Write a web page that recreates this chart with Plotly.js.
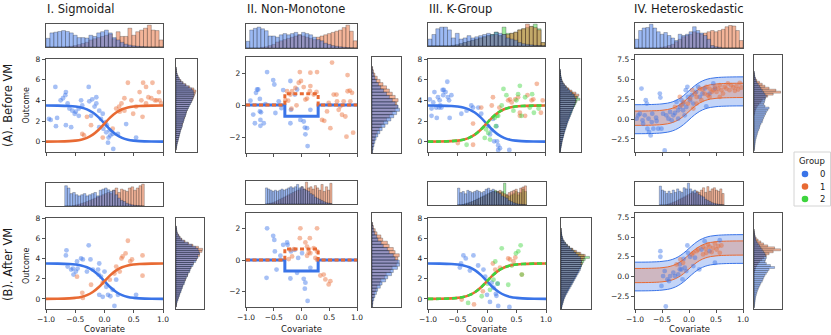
<!DOCTYPE html>
<html><head><meta charset="utf-8">
<script src="https://cdn.plot.ly/plotly-3.0.1.min.js"></script>
<style>html,body{margin:0;padding:0;background:#fff;overflow:hidden}#chart{width:831px;height:335px}</style>
</head><body><div id="chart"></div>
<script>
// ---------------- DATA ----------------
const groups = ['0','1','2'];
const xTickVals = [-1,-0.5,0,0.5,1];
const xTickText = ['−1.0','−0.5','0.0','0.5','1.0'];

// model curves
const curveX   = [-1,-0.8,-0.6,-0.5,-0.4,-0.3,-0.2,-0.1,0,0.1,0.2,0.3,0.4,0.5,0.6,0.8,1];
const sigDown  = [3.5,3.49,3.45,3.4,3.31,3.13,2.82,2.35,1.75,1.15,0.68,0.37,0.19,0.1,0.05,0.01,0];
const sigUp    = [0,0.01,0.05,0.1,0.19,0.37,0.68,1.15,1.75,2.35,2.82,3.13,3.31,3.4,3.45,3.49,3.5];
const stepX    = [-1,-0.3,-0.3,0.3,0.3,1];
const stepBlue = [0,0,-0.7,-0.7,0,0];
const stepOrng = [0,0,0.7,0.7,0,0];
const hetBlueHi = [1.8,1.81,1.85,1.9,1.99,2.17,2.48,2.95,3.55,4.15,4.62,4.93,5.11,5.2,5.25,5.29,5.3];
const hetBlueLo = [-1.85,-1.84,-1.8,-1.75,-1.66,-1.48,-1.17,-0.7,-0.1,0.5,0.97,1.28,1.46,1.55,1.6,1.64,1.65];
const hetOrngHi = [1.0,1.01,1.05,1.1,1.19,1.37,1.68,2.15,2.75,3.35,3.82,4.13,4.31,4.4,4.45,4.49,4.5];
const hetOrngLo = [-0.8,-0.79,-0.75,-0.7,-0.61,-0.43,-0.12,0.35,0.95,1.55,2.02,2.33,2.51,2.6,2.65,2.69,2.7];

// I. Sigmoidal – points
const sigA_x0 = [-0.84,-0.95,-0.92,-0.81,-0.83,-0.75,-0.71,-0.67,-0.66,-0.63,-0.6,-0.55,-0.51,-0.49,-0.44,-0.4,-0.38,-0.44,-0.66,-0.57,-0.27,-0.26,-0.21,-0.14,-0.14,-0.17,-0.23,-0.09,-0.06,-0.03,0.02,0.04,0.03,0.09,0.1,0.14,0.07,0.15,0.06,0.23,0.37,0.54,-0.09,-0.02];
const sigA_y0 = [5.3,2.2,2.1,2.3,1.5,4.0,4.2,4.5,4.8,3.7,3.2,3.0,2.7,2.9,2.5,4.0,3.5,3.2,1.6,1.4,5.3,3.9,4.1,4.3,3.7,3.4,2.5,3.0,2.2,2.7,1.9,1.6,0.9,1.1,0.6,0.75,0.4,-0.7,-0.1,0.75,1.7,0.4,1.4,1.25];
const sigA_x1 = [-0.38,-0.35,-0.3,-0.23,-0.03,0.14,0.2,0.25,0.29,0.34,0.4,0.46,0.49,0.63,0.65,0.66,0.71,0.75,0.8,0.82,0.86,0.89,0.93,0.94,0.97,0.54,0.6,0.71,0.34,0.26];
const sigA_y1 = [0.75,0.6,2.4,1.6,0.4,1.25,3.2,3.4,3.7,4.2,5.7,4.0,2.7,4.0,2.4,5.7,3.7,4.3,4.2,5.7,4.0,4.0,4.8,4.0,3.7,3.4,4.8,5.3,3.0,2.9];
const sigB_x0 = [-0.65,-0.66,-0.63,-0.57,-0.54,-0.49,-0.53,-0.47,-0.4,-0.37,-0.27,-0.24,-0.2,-0.09,-0.11,-0.06,0,0.03,0.06,0.14,0.17,-0.09,-0.03,0.1,0.23,0.54,-0.46,-0.3,-0.1,0.2];
const sigB_y0 = [4.8,4.3,3.2,2.9,3.0,2.7,2.4,3.7,4.0,3.9,5.3,3.9,2.9,3.5,2.9,2.2,2.7,1.2,0.4,0.9,-0.7,0.4,0.2,0.26,0.4,0.4,3.0,2.7,2.4,1.9];
const sigB_x1 = [-0.47,-0.38,-0.37,-0.23,-0.03,0.09,0.17,0.2,0.29,0.31,0.36,0.4,0.44,0.47,0.65,0.65,0.26];
const sigB_y1 = [2.2,0.6,0.1,1.4,1.6,1.9,2.5,3.2,4.0,4.2,4.5,5.75,3.7,3.9,4.3,2.3,2.7];

// II. Non-Monotone – points
const nmA_x0 = [-0.92,-0.87,-0.84,-0.82,-0.8,-0.78,-0.75,-0.75,-0.74,-0.73,-0.74,-0.68,-0.62,-0.51,-0.49,-0.47,-0.41,-0.33,-0.2,-0.19,-0.2,-0.12,-0.08,-0.02,0.04,0.06,0.07,0.1,0.11,0.16,-0.36,-0.65];
const nmA_y0 = [0.27,-0.6,-1.14,0.76,0.97,0.97,0.38,-0.4,-0.93,-0.46,-1.3,-1.14,2.06,1.56,1.28,-0.5,0.23,0.93,1.5,-0.3,-1.14,0.65,0.97,-0.93,-1.03,-1.41,-1.83,-1.45,-2.57,-0.3,-0.2,0.06];
const nmA_x1 = [-0.03,0.16,0.28,0.55,0.83,-0.26,-0.2,-0.17,-0.11,-0.05,-0.01,0.04,0.07,0.1,0.15,0.16,0.22,0.27,-0.29,-0.24,-0.18,-0.09,0.37,0.41,0.46,0.49,0.52,0.58,0.63,0.64,0.67,0.7,0.73,0.76,0.79,0.81,0.83,0.87,0.91,0.93,0.88];
const nmA_y1 = [2.06,2.02,2.06,2.65,1.87,0.86,0.65,0.86,1.07,1.39,1.5,1.12,0.34,0.4,0.86,1.18,0.65,0.82,0.3,0.27,-0.23,-0.02,-0.93,-0.99,-0.4,0.13,-1.45,0.65,0.65,0.23,-0.3,-0.08,-0.61,0.23,-0.72,-1.98,0.86,0.9,0.76,-1.73,0.23];
const nmB_x0 = [-0.62,-0.51,-0.49,-0.48,-0.45,-0.63,-0.38,-0.33,-0.26,-0.25,-0.2,-0.19,-0.06,-0.08,0.04,0.07,0.06,0.11,0.16,0.01,-0.12];
const nmB_y0 = [2.02,1.54,1.28,0.55,-0.61,-1.14,0.27,0.97,1.12,0.97,-1.18,0.55,0.13,-0.82,-1.2,-1.45,-1.83,-2.61,-0.5,0.44,0.65];
const nmB_x1 = [-0.02,0.28,-0.03,0.15,0.07,0.1,0.13,-0.2,-0.14,-0.23,-0.17,0.1,0.16,0.34,0.4,0.43,0.52,0.49,0.25,0.28,0.22,0.28];
const nmB_y1 = [2.02,2.02,1.39,1.39,1.12,0.86,0.48,0.65,0.69,0.06,0.23,0.27,0.44,-0.99,-0.93,-1.24,-1.35,-1.56,0.13,0.55,0.76,0.02];

// III. K-Group – points
const kgA_x0 = [-0.97,-0.94,-0.94,-0.91,-0.89,-0.86,-0.85,-0.83,-0.8,-0.79,-0.75,-0.73,-0.7,-0.67,-0.66,-0.64,-0.63,-0.6,-0.74,-0.81,-0.77,-0.43,-0.34,-0.26,-0.23,-0.14,-0.09,0.06,0.09,0.13,0.17,0.18,0.2,0.2,0.23,0.39,0.03,0.11];
const kgA_y0 = [4.1,3.2,2.5,3.8,4.8,3.3,2.3,4.3,4.0,3.5,5.0,5.0,4.8,5.8,4.3,4.0,2.3,4.5,4.5,3.3,3.3,2.7,3.0,3.5,3.3,3.3,2.7,0.7,1.1,0.03,1.5,0.03,-0.36,-0.8,-0.63,-0.8,1.5,2.2];
const kgA_x1 = [-0.49,-0.23,-0.23,-0.09,0.09,0.11,0.22,0.37,0.4,0.43,0.49,0.54,0.57,0.66,0.7,0.77,0.8,0.86,0.93,0.96,0.57];
const kgA_y1 = [-0.13,-0.3,1.75,3.3,3.5,4.3,3.3,4.0,4.1,3.8,4.1,4.3,2.8,2.5,4.5,4.0,4.1,5.6,2.8,4.0,2.5];
const kgA_x2 = [-0.34,-0.03,0.03,0.06,0.14,0.2,0.16,0.26,0.29,0.34,0.46,0.51,0.54,0.57,0.6,0.66,0.74,0.78,0.81,0.89,0.18,-0.01];
const kgA_y2 = [-0.3,0.36,0.85,0.2,2.3,2.5,1.5,3.5,5.1,4.5,3.0,4.0,4.6,5.4,2.5,4.3,3.3,4.6,2.8,3.2,2.5,1.2];
const kgB_x0 = [-0.46,-0.44,-0.4,-0.36,-0.29,-0.23,-0.15,-0.06,-0.03,0.05,0.11,0.15,0.16,0.19,0.18,0.38,0,0.08];
const kgB_y0 = [3.1,3.5,4.3,4.0,2.8,4.3,3.3,2.9,2.2,-0.3,1.1,0.5,0.3,-0.7,1.5,-0.8,0.4,1.6];
const kgB_x1 = [-0.43,-0.22,-0.07,0.1,0.14,0.36,0.39,0.45,0.48,0.59,0.22];
const kgB_y1 = [-0.07,-0.55,0.75,3.5,2.9,4.0,3.9,3.7,4.1,2.4,3.1];
const kgB_x2 = [-0.32,-0.09,0.01,0.05,0.11,0.14,0.18,0.25,0.36,0.42,0.49,0.53,0.57,0.59];
const kgB_y2 = [-0.4,0.26,1.5,0.9,1.9,3.7,1.5,5.0,1.4,3.3,4.5,4.7,5.3,2.4];

// IV. Heteroskedastic – points
const hetA_x0 = [-0.97,-0.94,-0.91,-0.88,-0.86,-0.85,-0.82,-0.8,-0.78,-0.77,-0.74,-0.71,-0.75,-0.69,-0.68,-0.66,-0.61,-0.6,-0.57,-0.54,-0.53,-0.51,-0.48,-0.45,-0.42,-0.38,-0.35,-0.32,-0.29,-0.26,-0.23,-0.2,-0.17,-0.14,-0.11,-0.08,-0.06,-0.03,-0.02,0.02,0.05,0.08,0.13,0.17,0.2,0.25,0.29,0.32,0.38,0.45,0.48,-0.05,-0.11,-0.2];
const hetA_y0 = [0.04,0.46,0.67,3.83,-0.17,-0.59,0.46,2.36,1.94,-1.22,-1.64,-2.06,0.04,-0.38,0.67,-1.22,0.17,-0.25,-1.22,3.2,2.7,-1.22,0.67,-3.96,0.46,0.04,0.88,-0.17,0.46,0.76,2.15,1.1,1.52,2.36,1.94,0.46,3.62,4.05,2.78,2.36,2.99,1.94,3.41,4.05,2.78,3.2,3.83,1.6,3.2,4.47,3.83,1.52,1.1,0.04];
const hetA_x1 = [-0.26,-0.17,-0.14,-0.1,-0.02,0.02,0.06,0.11,0.14,0.2,0.25,0.29,0.32,0.35,0.38,0.42,0.45,0.48,0.51,0.54,0.57,0.6,0.63,0.66,0.69,0.72,0.75,0.78,0.82,0.85,0.88,0.91,0.94,0.97,0.14,0.08,0.23,0.38,0.57];
const hetA_y1 = [1.52,2.78,1.73,2.15,1.94,2.57,3.62,3.2,2.78,3.83,3.71,3.2,4.05,2.99,3.83,3.41,3.62,4.05,3.41,3.83,4.26,3.62,3.2,4.05,3.83,4.47,3.62,4.26,3.96,3.54,4.13,3.71,4.55,3.96,1.94,1.31,2.36,2.78,2.78];
const hetB_x0 = [-0.53,-0.53,-0.51,-0.48,-0.45,-0.43,-0.4,-0.37,-0.35,-0.29,-0.26,-0.2,-0.17,-0.14,-0.12,-0.1,-0.03,-0.02,0.02,0.08,0.11,0.19,0.23,0.29,0.38,0.48,0.57,-0.17,-0.08,-0.05];
const hetB_y0 = [3.2,2.49,-1.22,0.04,0.67,-3.83,-0.38,-0.59,0.04,0.46,0.04,0.25,1.52,0.88,-0.38,2.23,3.92,2.99,2.49,1.31,2.36,0.88,3.41,4.47,3.2,1.73,4.59,0.88,1.1,0.67];
const hetB_x1 = [-0.23,-0.16,-0.11,0.05,0.08,0.14,0.17,0.26,0.31,0.35,0.38,0.42,0.45,0.48,0.51,0.54,0.57,0.6,0.26,0.32];
const hetB_y1 = [1.52,2.15,1.73,2.78,2.99,3.2,3.41,3.75,3.5,4.05,3.75,3.08,3.62,4.17,3.41,3.83,2.99,3.92,2.78,2.99];

// marginal histograms (relative counts per bin)
const sigA_top0 = [0.37,0.6,0.63,0.66,0.7,0.66,0.6,0.5,0.4,0.4,0.38,0.5,0.45,0.6,0.65,0.72,0.6,0.4,0.3,0.2,0.12,0.08,0.05,0.03,0.02,0.01,0,0,0,0];
const sigA_top1 = [0,0,0,0,0,0.02,0.03,0.06,0.1,0.15,0.2,0.3,0.35,0.4,0.45,0.5,0.55,0.35,0.65,0.45,0.45,0.8,0.5,0.65,0.72,0.8,0.93,0.72,0.7,0.3];
const sigB_top0 = [0.9,0.8,0.55,0.6,0.5,0.45,0.5,0.55,0.45,0.5,0.55,0.6,0.45,0.7,0.75,0.8,0.72,0.65,0.7,0.5,0.35,0.25,0.2,0.12,0.08,0.05,0.03,0.02,0.01,0];
const sigB_top1 = [0,0,0,0.02,0.05,0.08,0.12,0.15,0.2,0.25,0.3,0.35,0.4,0.45,0.5,0.55,0.6,0.55,0.7,0.8,0.6,0.75,0.7,0.65,0.8,0.85,0.7,0.8,0.9,0.97];
const nmA_top0 = [0.28,0.75,0.82,0.87,0.8,0.72,0.5,0.5,0.45,0.55,0.6,0.55,0.6,0.65,0.55,0.65,0.6,0.55,0.45,0.35,0.3,0.2,0.15,0.1,0.07,0.05,0.03,0.02,0.01,0];
const nmA_top1 = [0,0,0,0,0.03,0.05,0.1,0.15,0.25,0.3,0.35,0.4,0.45,0.5,0.55,0.5,0.45,0.4,0.35,0.45,0.5,0.55,0.6,0.65,0.7,0.75,0.85,0.95,0.7,0.3];
const nmB_top0 = [0.7,0.65,0.6,0.55,0.6,0.55,0.6,0.65,0.6,0.65,0.7,0.75,0.7,0.75,0.85,0.7,0.75,0.65,0.6,0.55,0.45,0.4,0.3,0.25,0.2,0.15,0.1,0.06,0.04,0.02];
const nmB_top1 = [0,0.02,0.04,0.06,0.1,0.15,0.2,0.25,0.3,0.35,0.4,0.45,0.5,0.55,0.6,0.62,0.75,0.65,0.95,0.7,0.75,0.65,0.8,0.7,0.6,0.85,0.55,0.75,0.6,0.9];
const kgA_top0 = [0.3,0.5,0.75,0.82,0.82,0.7,0.35,0.55,0.3,0.35,0.45,0.35,0.4,0.45,0.5,0.55,0.5,0.6,0.55,0.5,0.35,0.3,0.25,0.15,0.1,0.07,0.05,0.03,0.02,0.01];
const kgA_top1 = [0,0,0,0,0,0,0.03,0.05,0.1,0.15,0.2,0.25,0.3,0.35,0.4,0.45,0.45,0.5,0.45,0.5,0.5,0.55,0.6,0.7,0.75,0.95,0.85,0.8,0.7,0.15];
const kgA_top2 = [0,0,0,0,0,0,0.02,0.05,0.1,0.15,0.2,0.25,0.3,0.35,0.4,0.45,0.5,0.6,0.45,0.82,0.55,0.55,0.6,0.7,0.75,0.8,0.85,0.95,0.75,0.15];
const kgB_top0 = [0.75,0.55,0.6,0.5,0.65,0.6,0.55,0.6,0.65,0.6,0.55,0.6,0.7,0.75,0.65,0.7,0.6,0.55,0.5,0.4,0.35,0.3,0.2,0.15,0.1,0.07,0.04,0.03,0.02,0.01];
const kgB_top1 = [0,0,0.02,0.05,0.08,0.12,0.15,0.2,0.25,0.3,0.35,0.4,0.45,0.5,0.55,0.6,0.55,0.6,0.65,0.55,0.5,0.45,0.55,0.6,0.65,0.7,0.55,0.75,0.8,0.85];
const kgB_top2 = [0,0,0.02,0.05,0.08,0.12,0.15,0.2,0.25,0.3,0.35,0.4,0.45,0.5,0.55,0.6,0.65,0.6,0.55,0.6,0.97,0.45,0.4,0.45,0.5,0.6,0.45,0.55,0.7,0.6];
const hetA_top0 = [0.35,0.7,0.8,0.82,0.95,0.8,0.65,0.55,0.62,0.5,0.4,0.3,0.55,0.5,0.55,0.65,0.85,0.7,0.6,0.5,0.35,0.1,0.05,0.03,0,0,0,0,0,0];
const hetA_top1 = [0,0,0,0,0,0,0,0.03,0.05,0.1,0.15,0.25,0.35,0.45,0.5,0.55,0.65,0.6,0.55,0.6,0.65,0.7,0.65,0.7,0.75,0.85,0.9,0.88,0.7,0.3];
const hetB_top0 = [0.82,0.65,0.6,0.5,0.6,0.5,0.65,0.55,0.7,0.6,0.55,0.75,0.7,0.95,0.7,0.6,0.65,0.55,0.45,0.4,0.35,0.25,0.2,0.15,0.1,0.07,0.05,0.03,0.02,0.01];
const hetB_top1 = [0,0,0,0.02,0.05,0.08,0.12,0.15,0.2,0.25,0.3,0.35,0.4,0.45,0.5,0.55,0.5,0.6,0.55,0.65,0.75,0.55,0.8,0.6,0.7,0.75,0.65,0.6,0.7,0.5];

const sigA_r0 = [0.01,0.03,0.05,0.07,0.1,0.12,0.15,0.17,0.2,0.22,0.26,0.3,0.3,0.35,0.38,0.4,0.45,0.48,0.5,0.55,0.6,0.65,0.7,0.75,0.78,0.82,0.85,0.85,0.82,0.75,0.6,0.45,0.32,0.22,0.15,0.1,0.06,0.03,0.02,0.01];
const sigA_r1 = [0.01,0.02,0.04,0.06,0.09,0.11,0.14,0.16,0.19,0.21,0.25,0.28,0.31,0.34,0.37,0.41,0.44,0.47,0.5,0.54,0.58,0.62,0.68,0.74,0.8,0.84,0.88,0.92,0.95,0.85,0.65,0.48,0.34,0.24,0.16,0.1,0.06,0.03,0.02,0.01];
const sigB_r0 = [0.01,0.02,0.04,0.07,0.09,0.12,0.14,0.18,0.2,0.23,0.25,0.3,0.32,0.34,0.38,0.42,0.44,0.5,0.52,0.55,0.62,0.64,0.72,0.74,0.8,0.8,0.86,0.84,0.8,0.72,0.58,0.44,0.3,0.2,0.14,0.09,0.05,0.03,0.02,0.01];
const sigB_r1 = [0.01,0.02,0.03,0.06,0.08,0.11,0.13,0.16,0.18,0.22,0.24,0.28,0.3,0.35,0.36,0.42,0.43,0.48,0.5,0.55,0.57,0.63,0.66,0.75,0.78,0.86,0.85,0.95,0.97,0.82,0.62,0.46,0.33,0.22,0.15,0.1,0.05,0.03,0.02,0.01];
const nmA_r0 = [0.02,0.04,0.07,0.1,0.14,0.2,0.27,0.35,0.45,0.55,0.65,0.75,0.85,0.95,0.9,0.8,0.7,0.6,0.5,0.4,0.3,0.22,0.15,0.1,0.06,0.03,0.01];
const nmA_r1 = [0.01,0.02,0.04,0.06,0.09,0.13,0.18,0.25,0.32,0.4,0.5,0.6,0.7,0.8,0.88,0.85,0.9,0.8,0.7,0.6,0.5,0.38,0.28,0.18,0.1,0.05,0.02];
const nmB_r0 = [0.02,0.03,0.06,0.1,0.15,0.19,0.28,0.34,0.46,0.53,0.66,0.72,0.86,0.93,0.92,0.78,0.72,0.58,0.52,0.38,0.31,0.2,0.16,0.09,0.06,0.03,0.01];
const nmB_r1 = [0.01,0.02,0.03,0.07,0.08,0.14,0.17,0.26,0.3,0.42,0.48,0.62,0.68,0.82,0.86,0.87,0.92,0.78,0.72,0.58,0.52,0.36,0.3,0.17,0.11,0.05,0.02];
const kgA_r0 = [0.02,0.04,0.06,0.08,0.1,0.12,0.15,0.18,0.2,0.23,0.26,0.3,0.33,0.36,0.4,0.44,0.48,0.52,0.56,0.6,0.64,0.68,0.72,0.76,0.78,0.8,0.75,0.7,0.6,0.5,0.4,0.3,0.22,0.15,0.1,0.07,0.05,0.03,0.02,0.01];
const kgA_r1 = [0.01,0.02,0.04,0.06,0.08,0.1,0.12,0.15,0.18,0.2,0.23,0.26,0.3,0.33,0.36,0.4,0.44,0.48,0.5,0.55,0.6,0.65,0.7,0.75,0.8,0.78,0.85,0.95,0.8,0.6,0.45,0.32,0.22,0.15,0.1,0.06,0.04,0.02,0.01,0];
const kgA_r2 = [0.01,0.02,0.04,0.06,0.08,0.1,0.12,0.15,0.18,0.2,0.23,0.26,0.3,0.33,0.36,0.4,0.45,0.5,0.55,0.6,0.62,0.68,0.75,0.8,0.85,1.0,0.9,0.75,0.65,0.5,0.4,0.3,0.2,0.14,0.09,0.06,0.04,0.02,0.01,0];
const kgB_r0 = [0.02,0.04,0.06,0.08,0.1,0.13,0.16,0.2,0.24,0.28,0.32,0.36,0.4,0.44,0.48,0.52,0.56,0.6,0.64,0.68,0.7,0.72,0.7,0.72,0.7,0.68,0.6,0.52,0.45,0.38,0.3,0.22,0.16,0.11,0.07,0.05,0.03,0.02,0.01,0];
const kgB_r1 = [0.01,0.02,0.04,0.06,0.08,0.1,0.13,0.16,0.2,0.24,0.28,0.32,0.36,0.4,0.44,0.48,0.52,0.56,0.6,0.63,0.66,0.7,0.74,0.72,0.78,0.82,0.85,0.7,0.55,0.42,0.3,0.22,0.15,0.1,0.06,0.04,0.02,0.01,0,0];
const kgB_r2 = [0.01,0.02,0.04,0.06,0.08,0.1,0.13,0.16,0.2,0.24,0.28,0.32,0.36,0.4,0.44,0.48,0.52,0.56,0.6,0.63,0.68,0.72,0.76,0.8,0.85,1.0,0.8,0.65,0.5,0.4,0.3,0.22,0.15,0.1,0.06,0.04,0.02,0.01,0,0];
const hetA_r0 = [0.01,0.02,0.03,0.04,0.05,0.06,0.08,0.1,0.12,0.14,0.17,0.2,0.22,0.25,0.3,0.32,0.35,0.38,0.42,0.45,0.5,0.55,0.4,0.35,0.38,0.4,0.42,0.45,0.4,0.35,0.3,0.25,0.2,0.15,0.1,0.07,0.05,0.03,0.02,0.01];
const hetA_r1 = [0,0,0,0,0,0,0,0,0,0,0,0,0,0,0,0,0,0,0.02,0.03,0.05,0.08,0.12,0.18,0.25,0.3,0.4,0.5,0.7,0.97,0.8,0.55,0.4,0.3,0.2,0.1,0.05,0.02,0.01,0];
const hetB_r0 = [0.01,0.02,0.03,0.04,0.05,0.06,0.08,0.1,0.12,0.15,0.18,0.22,0.25,0.3,0.33,0.36,0.4,0.45,0.5,0.55,0.75,0.6,0.45,0.4,0.42,0.45,0.42,0.4,0.35,0.3,0.25,0.2,0.15,0.1,0.07,0.05,0.03,0.02,0.01,0];
const hetB_r1 = [0,0,0,0,0,0,0,0,0,0,0,0,0,0,0,0,0,0,0.02,0.04,0.06,0.1,0.15,0.2,0.28,0.35,0.45,0.55,0.7,0.97,0.75,0.5,0.35,0.25,0.15,0.08,0.04,0.02,0.01,0];

// ---------------- DRAWING ----------------
const W = 831, H = 335;
const FONT = 'DejaVu Sans, sans-serif';
const C = ['#3A74E8', '#E86A33', '#3DD43D'];
function rgba(hex, a) { const n = parseInt(hex.slice(1), 16); return 'rgba(' + (n >> 16) + ',' + ((n >> 8) & 255) + ',' + (n & 255) + ',' + a + ')'; }
const traces = [];
const layout = {
  width: W, height: H, margin: {l: 0, r: 0, t: 0, b: 0, autoexpand: false},
  paper_bgcolor: 'white', plot_bgcolor: 'white', barmode: 'overlay', bargap: 0,
  font: {family: FONT, color: '#222'}, annotations: [], shapes: [], showlegend: false
};
let nAx = 0;
const frame = {showline: true, mirror: true, linecolor: '#262626', linewidth: 0.8, showgrid: false, zeroline: false, fixedrange: true};
function axes(x0, x1, y0, y1, xo, yo) {
  nAx++; const s = nAx === 1 ? '' : String(nAx);
  layout['xaxis' + s] = Object.assign({}, frame, {domain: [x0 / W, x1 / W], anchor: 'y' + s}, xo);
  layout['yaxis' + s] = Object.assign({}, frame, {domain: [1 - y1 / H, 1 - y0 / H], anchor: 'x' + s}, yo);
  return {xaxis: 'x' + s, yaxis: 'y' + s};
}
const TICK = {ticks: 'outside', ticklen: 3.5, tickwidth: 0.8, tickcolor: '#262626', tickfont: {size: 7.5, family: FONT, color: '#222'}};
const HID = {ticks: '', showticklabels: false};
function mainAxes(g, yr, yt, ytt, showX) {
  return axes(g.m[0], g.m[1], g.m[2], g.m[3],
    Object.assign({range: [-1, 1], tickvals: xTickVals, ticktext: xTickText, showticklabels: showX}, TICK),
    Object.assign({range: yr, tickvals: yt, ticktext: ytt}, TICK));
}
function topAxes(g) { return axes(g.m[0], g.m[1], g.t[0], g.t[1], Object.assign({range: [-1, 1]}, HID), Object.assign({autorange: true, rangemode: 'tozero'}, HID)); }
function rightAxes(g, yr) { return axes(g.r[0], g.r[1], g.m[2], g.m[3], Object.assign({autorange: true, rangemode: 'tozero'}, HID), Object.assign({range: yr}, HID)); }
function binCenters(lo, w, n) { const a = []; for (let i = 0; i < n; i++) a.push(lo + w * (i + 0.5)); return a; }
const EDGE = {color: 'rgba(20,20,20,0.5)', width: 0.5};
function topHist(ax, lo, hi, counts, col) {
  const n = counts.length, w = (hi - lo) / n;
  traces.push({type: 'bar', x: binCenters(lo, w, n), y: counts, width: w, marker: {color: rgba(col, 0.5), line: EDGE}, xaxis: ax.xaxis, yaxis: ax.yaxis, showlegend: false, hoverinfo: 'skip'});
}
function rightHist(ax, lo, w, counts, col) {
  traces.push({type: 'bar', orientation: 'h', y: binCenters(lo, w, counts.length), x: counts, width: w, marker: {color: rgba(col, 0.5), line: EDGE}, xaxis: ax.xaxis, yaxis: ax.yaxis, showlegend: false, hoverinfo: 'skip'});
}
function pts(ax, xs, ys, col) {
  traces.push({type: 'scatter', mode: 'markers', x: xs, y: ys, marker: {size: 4.8, color: rgba(col, 0.45), line: {width: 0}}, xaxis: ax.xaxis, yaxis: ax.yaxis, showlegend: false, hoverinfo: 'skip'});
}
function line(ax, xs, ys, col, w, dash, shape, fill, fillcolor) {
  const t = {type: 'scatter', mode: 'lines', x: xs, y: ys, line: {color: col, width: w, dash: dash || 'solid', shape: shape || 'spline', smoothing: 1}, xaxis: ax.xaxis, yaxis: ax.yaxis, showlegend: false, hoverinfo: 'skip'};
  if (fill) { t.fill = fill; t.fillcolor = fillcolor; }
  traces.push(t);
}

const G = [
  {m: [46, 163, 59, 152], t: [24, 47], r: [176, 197]},
  {m: [46, 163, 218, 309], t: [183, 206], r: [176, 204]},
  {m: [246, 357, 57, 153], t: [24, 48], r: [372, 401]},
  {m: [246, 357, 213, 307], t: [181, 204], r: [372, 401]},
  {m: [428, 545, 59, 152], t: [23, 46], r: [560, 581]},
  {m: [428, 546, 218, 309], t: [182, 205], r: [561, 591]},
  {m: [635, 743, 55, 152], t: [23, 48], r: [754, 782]},
  {m: [635, 743, 213, 309], t: [182, 205], r: [754, 782]}
];
const YR_S = [-1, 8], YT_S = [0, 2, 4, 6, 8], YTT_S = ['0', '2', '4', '6', '8'];
const YR_N = [-3, 3], YT_N = [-2, 0, 2], YTT_N = ['−2', '0', '2'];
const YR_H = [-4.15, 8.05], YT_H = [-2.5, 0, 2.5, 5, 7.5], YTT_H = ['−2.5', '0.0', '2.5', '5.0', '7.5'];

// I. Sigmoidal
[[G[0], false, sigA_x0, sigA_y0, sigA_x1, sigA_y1, [-1, 1], sigA_top0, sigA_top1, sigA_r0, sigA_r1],
 [G[1], true, sigB_x0, sigB_y0, sigB_x1, sigB_y1, [-0.68, 0.68], sigB_top0, sigB_top1, sigB_r0, sigB_r1]].forEach(p => {
  const m = mainAxes(p[0], YR_S, YT_S, YTT_S, p[1]);
  pts(m, p[2], p[3], C[0]); pts(m, p[4], p[5], C[1]);
  line(m, curveX, sigDown, C[0], 2.6); line(m, curveX, sigUp, C[1], 2.6);
  const t = topAxes(p[0]); topHist(t, p[6][0], p[6][1], p[8], C[1]); topHist(t, p[6][0], p[6][1], p[7], C[0]);
  const r = rightAxes(p[0], YR_S); rightHist(r, -0.8, 0.2, p[10], C[1]); rightHist(r, -0.8, 0.2, p[9], C[0]);
});
// II. Non-Monotone
[[G[2], false, nmA_x0, nmA_y0, nmA_x1, nmA_y1, [-1, 1], nmA_top0, nmA_top1, nmA_r0, nmA_r1],
 [G[3], true, nmB_x0, nmB_y0, nmB_x1, nmB_y1, [-0.65, 0.55], nmB_top0, nmB_top1, nmB_r0, nmB_r1]].forEach(p => {
  const m = mainAxes(p[0], YR_N, YT_N, YTT_N, p[1]);
  pts(m, p[2], p[3], C[0]); pts(m, p[4], p[5], C[1]);
  line(m, stepX, stepBlue, C[0], 3, 'solid', 'linear'); line(m, stepX, stepOrng, C[1], 3, '4px,2.5px', 'linear');
  const t = topAxes(p[0]); topHist(t, p[6][0], p[6][1], p[8], C[1]); topHist(t, p[6][0], p[6][1], p[7], C[0]);
  const r = rightAxes(p[0], YR_N); rightHist(r, -3, 0.2, p[10], C[1]); rightHist(r, -3, 0.2, p[9], C[0]);
});
// III. K-Group
[[G[4], false, kgA_x0, kgA_y0, kgA_x1, kgA_y1, kgA_x2, kgA_y2, [-1, 1], kgA_top0, kgA_top1, kgA_top2, kgA_r0, kgA_r1, kgA_r2],
 [G[5], true, kgB_x0, kgB_y0, kgB_x1, kgB_y1, kgB_x2, kgB_y2, [-0.5, 0.67], kgB_top0, kgB_top1, kgB_top2, kgB_r0, kgB_r1, kgB_r2]].forEach(p => {
  const m = mainAxes(p[0], YR_S, YT_S, YTT_S, p[1]);
  pts(m, p[2], p[3], C[0]); pts(m, p[4], p[5], C[1]); pts(m, p[6], p[7], C[2]);
  line(m, curveX, sigDown, C[0], 2.6); line(m, curveX, sigUp, C[1], 2.6); line(m, curveX, sigUp, C[2], 2.6, '5px,3px');
  const t = topAxes(p[0]); [11, 10, 9].forEach(k => topHist(t, p[8][0], p[8][1], p[k], C[k - 9]));
  const r = rightAxes(p[0], YR_S); [14, 13, 12].forEach(k => rightHist(r, -1, 0.2, p[k], C[k - 12]));
});
// IV. Heteroskedastic
[[G[6], false, hetA_x0, hetA_y0, hetA_x1, hetA_y1, [-1, 1], hetA_top0, hetA_top1, hetA_r0, hetA_r1],
 [G[7], true, hetB_x0, hetB_y0, hetB_x1, hetB_y1, [-0.55, 0.65], hetB_top0, hetB_top1, hetB_r0, hetB_r1]].forEach(p => {
  const m = mainAxes(p[0], YR_H, YT_H, YTT_H, p[1]);
  line(m, curveX, hetBlueLo, C[0], 1);
  line(m, curveX, hetBlueHi, C[0], 1, 'solid', 'spline', 'tonexty', rgba(C[0], 0.3));
  line(m, curveX, hetOrngLo, C[1], 1);
  line(m, curveX, hetOrngHi, C[1], 1, 'solid', 'spline', 'tonexty', rgba(C[1], 0.28));
  pts(m, p[2], p[3], C[0]); pts(m, p[4], p[5], C[1]);
  const t = topAxes(p[0]); topHist(t, p[6][0], p[6][1], p[8], C[1]); topHist(t, p[6][0], p[6][1], p[7], C[0]);
  const r = rightAxes(p[0], YR_H); rightHist(r, -4, 0.25, p[10], C[1]); rightHist(r, -4, 0.25, p[9], C[0]);
});

function ann(text, px, py, size, opts) {
  layout.annotations.push(Object.assign({text: text, xref: 'paper', yref: 'paper', x: px / W, y: 1 - py / H, showarrow: false,
    xanchor: 'center', yanchor: 'middle', font: {family: FONT, size: size, color: '#1a1a1a'}}, opts || {}));
}
ann('I. Sigmoidal', 45, 9, 11.5, {xanchor: 'left'});
ann('II. Non-Monotone', 245, 9, 11.5, {xanchor: 'left'});
ann('III. K-Group', 427, 9, 11.5, {xanchor: 'left'});
ann('IV. Heteroskedastic', 632, 9, 11.5, {xanchor: 'left'});
ann('(A). Before VM', 8, 106, 11.5, {textangle: -90});
ann('(B). After VM', 8, 265, 11.5, {textangle: -90});
ann('Outcome', 26, 105.5, 8, {textangle: -90});
ann('Outcome', 26, 266, 8, {textangle: -90});
ann('Covariate', 104.5, 329, 8.5);
ann('Covariate', 301.5, 329, 8.5);
ann('Covariate', 487, 329, 8.5);
ann('Covariate', 689, 329, 8.5);

// compact legend (box, title, one entry per group)
const LEG = {x0: 794, y0: 152, x1: 830.5, y1: 206, dotX: 805, textX: 822, firstY: 174, step: 12.5, r: 3.3};
layout.shapes.push({type: 'rect', xref: 'paper', yref: 'paper', x0: LEG.x0 / W, x1: LEG.x1 / W, y0: 1 - LEG.y1 / H, y1: 1 - LEG.y0 / H,
  line: {color: '#d4d4d4', width: 1}, fillcolor: 'white', layer: 'above'});
ann('Group', 812, 161, 8.5);
groups.forEach((g, i) => {
  const cy = LEG.firstY + LEG.step * i;
  layout.shapes.push({type: 'circle', xref: 'paper', yref: 'paper', x0: (LEG.dotX - LEG.r) / W, x1: (LEG.dotX + LEG.r) / W,
    y0: 1 - (cy + LEG.r) / H, y1: 1 - (cy - LEG.r) / H, fillcolor: C[i], line: {width: 0}, layer: 'above'});
  ann(g, LEG.textX, cy, 8.5);
});

Plotly.newPlot('chart', traces, layout, {staticPlot: true, displayModeBar: false});
</script></body></html>
